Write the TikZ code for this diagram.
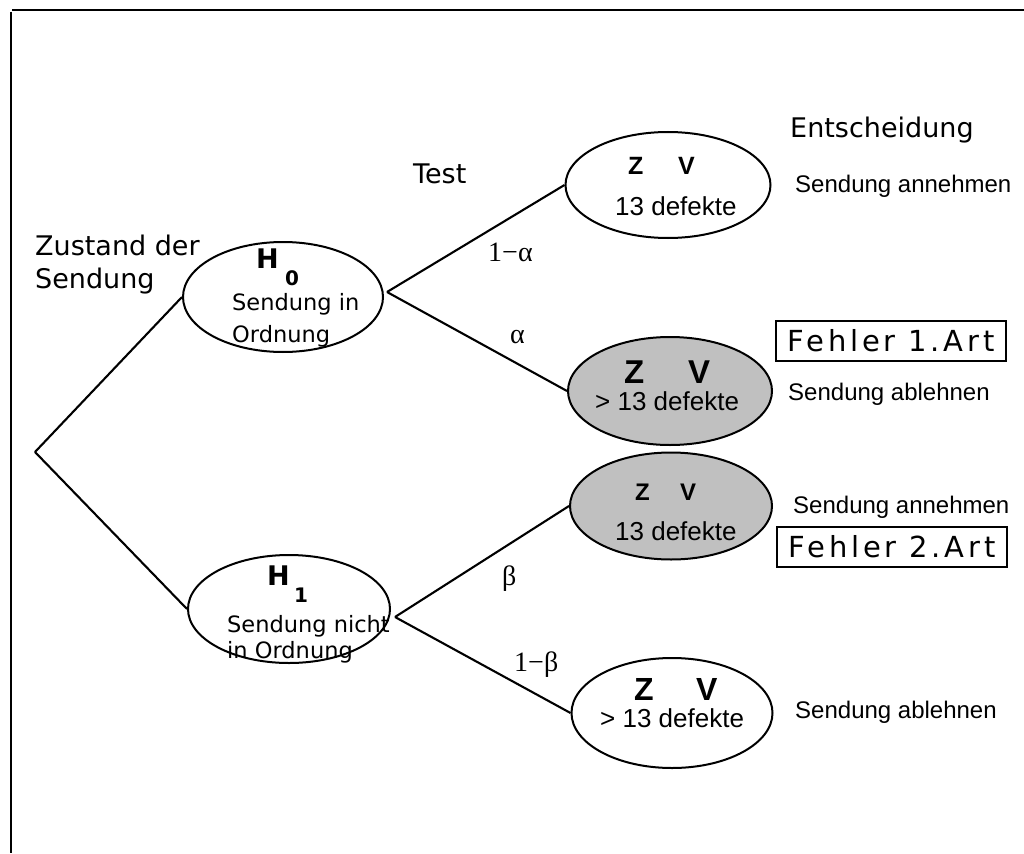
\documentclass[tikz,border=0pt]{standalone}
\usepackage{fontspec}
\setmainfont{Liberation Sans}
\newfontfamily\verd{DejaVu Sans}
\newfontfamily\fehlf[LetterSpace=13]{DejaVu Sans}
\newfontfamily\tms{Liberation Serif}
\usetikzlibrary{shapes.geometric}
\definecolor{shade}{HTML}{C0C0C0}
\begin{document}
\begin{tikzpicture}[x=1pt,y=-1pt,
  ell/.style={draw, ellipse, line width=2pt, inner sep=0pt},
  conn/.style={line width=2.1pt},
  vtxt/.style={inner sep=0pt, anchor=base west, font=\verd\fontsize{27}{30}\selectfont},
  itxt/.style={inner sep=0pt, anchor=base west, font=\verd\fontsize{22.5}{26}\selectfont},
  hbig/.style={inner sep=0pt, anchor=base west, font=\verd\bfseries\fontsize{27}{30}\selectfont},
  hsub/.style={inner sep=0pt, anchor=base west, font=\verd\bfseries\fontsize{20}{24}\selectfont},
  zv/.style={inner sep=0pt, anchor=base west, font=\bfseries\fontsize{#1}{#1}\selectfont},
  def/.style={inner sep=0pt, anchor=base west, font=\fontsize{26}{30}\selectfont},
  dec/.style={inner sep=0pt, anchor=base west, font=\fontsize{24}{28}\selectfont},
  grk/.style={inner sep=0pt, anchor=base west, font=\tms\fontsize{28}{30}\selectfont},
  err/.style={draw, line width=2pt, inner sep=0pt, minimum width=230pt, minimum height=40pt, font=\fehlf\fontsize{29}{32}\selectfont}
]
\useasboundingbox (0,0) rectangle (1024,853);
% frame
\draw[line width=2.6pt] (12,10) -- (1024,10);
\draw[line width=2.6pt] (11,12) -- (11,853);

% nodes
\coordinate (root) at (35,452);
\node[ell, minimum width=200pt, minimum height=110pt] (h0) at (283,297) {};
\node[ell, minimum width=202pt, minimum height=108pt] (h1) at (289,609) {};
\node[ell, minimum width=205pt, minimum height=106pt] (e1) at (668,185) {};
\node[ell, fill=shade, minimum width=204pt, minimum height=108pt] (e2) at (670,391) {};
\node[ell, fill=shade, minimum width=202pt, minimum height=107pt] (e3) at (671,506) {};
\node[ell, minimum width=201pt, minimum height=110pt] (e4) at (672,713) {};

% connectors
\draw[conn] (root) -- (h0.west);
\draw[conn] (root) -- (h1.west);
\coordinate (h0r) at (387,292);
\draw[conn] (h0r) -- (e1.west);
\draw[conn] (h0r) -- (e2.west);
\coordinate (h1r) at (395,617);
\draw[conn] (h1r) -- (e3.west);
\draw[conn] (h1r) -- (e4.west);

% headings
\node[vtxt] (zus1) at (35,255) {Zustand der};
\node[vtxt] (zus2) at (35,288) {Sendung};
\node[vtxt] (test) at (413,183) {Test};
\node[vtxt] (ent) at (790,138) {Entscheidung};

% H0
\node[hbig] (h0H) at (256,268) {H};
\node[hsub] (h0s) at (285,285) {0};
\node[itxt] (h0a) at (232,310) {Sendung in};
\node[itxt] (h0b) at (232,342) {Ordnung};
% H1
\node[hbig] (h1H) at (267,585) {H};
\node[hsub] (h1s) at (294,602) {1};
\node[itxt] (h1a) at (227,632) {Sendung nicht};
\node[itxt] (h1b) at (227,658) {in Ordnung};

% E1
\node[zv=25] (e1z) at (628,175) {Z};
\node[zv=25] (e1v) at (678,175) {V};
\node[def] (e1d) at (615,215) {13 defekte};
% E2
\node[zv=33] (e2z) at (624,383) {Z};
\node[zv=33] (e2v) at (688,383) {V};
\node[def] (e2d) at (595,410) {> 13 defekte};
% E3
\node[zv=24] (e3z) at (635,500) {Z};
\node[zv=24] (e3v) at (680,500) {V};
\node[def] (e3d) at (615,540) {13 defekte};
% E4
\node[zv=32] (e4z) at (634,700) {Z};
\node[zv=32] (e4v) at (696,700) {V};
\node[def] (e4d) at (600,727) {> 13 defekte};

% greek labels
\node[grk] (l1) at (488,261) {1\textminus α};
\node[grk] (l2) at (510,343) {α};
\node[grk] (l3) at (502,585) {β};
\node[grk] (l4) at (514,671) {1\textminus β};

% decisions
\node[dec] (d1) at (795,193) {Sendung annehmen};
\node[dec] (d2) at (788,400) {Sendung ablehnen};
\node[dec] (d3) at (793,513) {Sendung annehmen};
\node[dec] (d4) at (795,718) {Sendung ablehnen};

% errors
\node[err] (f1) at (891,341) {Fehler 1.Art};
\node[err] (f2) at (892,547) {Fehler 2.Art};
\end{tikzpicture}
\end{document}
